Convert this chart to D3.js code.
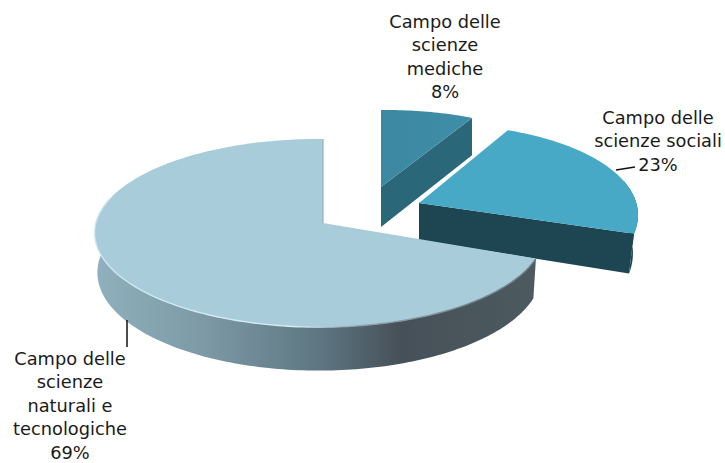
<!DOCTYPE html>
<html>
<head>
<meta charset="utf-8">
<script src="https://cdn.jsdelivr.net/npm/d3@7"></script>
<style>
  html, body { margin: 0; padding: 0; background: #fff; }
  text { font-family: "DejaVu Sans", sans-serif; font-size: 17.8px; fill: #1a1a1a; text-anchor: middle; }
</style>
</head>
<body>
<svg id="chart" width="725" height="463"></svg>
<script>
// clockwise from 12 o'clock, same order as the original slices
const categories = ["Campo delle scienze mediche", "Campo delle scienze sociali", "Campo delle scienze naturali e tecnologiche"];
const shares = [8, 23, 69];
const labelLines = [
  ["Campo delle", "scienze", "mediche", "8%"],
  ["Campo delle", "scienze sociali", "23%"],
  ["Campo delle", "scienze", "naturali e", "tecnologiche", "69%"]
];

// perspective settings for each exploded slice
const views = [
  { ox: 381, oy: 187, rx: 203, ry: 83.5, k: 0.085, j: 0, t: -0.011, d: 40, c: 0 },
  { ox: 419, oy: 203, rx: 215, ry: 93.5, k: 0.19, j: 0, t: -0.029, d: 37, c: 0.023 },
  { ox: 323, oy: 223, rx: 223.4, ry: 93, k: 0.107, j: -0.016, t: 0.002, d: 38.8, c: 0.012 }
];
const topColors = ["url(#topMed)", "#47a9c6", "#a9ccdb"];

const svg = d3.select("#chart");
const defs = svg.append("defs");

function gradient(id, x1, x2, stops) {
  const g = defs.append("linearGradient").attr("id", id)
    .attr("gradientUnits", "userSpaceOnUse")
    .attr("x1", x1).attr("x2", x2).attr("y1", 0).attr("y2", 0);
  stops.forEach(s => g.append("stop").attr("offset", s[0]).attr("stop-color", s[1]));
}
gradient("topMed", 380, 472, [[0, "#3c87a1"], [1, "#3f8ea9"]]);
gradient("wallNat", 96, 537, [[0, "#8fb0bd"], [0.24, "#7d9aa6"], [0.51, "#5d7681"], [0.69, "#465058"], [1, "#4d5a60"]]);
gradient("rimNat", 96, 537, [[0, "#cfe6ef"], [0.45, "#d8edf4"], [0.6, "#8fa3ad"], [1, "#6c7b83"]]);

const pie = d3.pie().sort(null).value(d => d);
const arcs = pie(shares);
const line = d3.line().x(d => d[0]).y(d => d[1]);

// angle in radians, clockwise from the top, r 0..1 on the slice disc
function project(v, a, r, down) {
  const u = Math.sin(a) * r, w = -Math.cos(a) * r;
  const s = 1 / (1 - v.k * w - v.j * u);
  const x = v.rx * u * s;
  const y = v.ry * w * s + v.t * x;
  return down ? [v.ox + x * (1 - v.c), v.oy + y + v.d * s] : [v.ox + x, v.oy + y];
}
function arcPoints(v, a0, a1, down) {
  const n = Math.max(2, Math.ceil(Math.abs(a1 - a0) / 0.02));
  return d3.range(n + 1).map(i => project(v, a0 + (a1 - a0) * i / n, 1, down));
}
function topFace(v, a) {
  return [project(v, 0, 0, false)].concat(arcPoints(v, a.startAngle, a.endAngle, false));
}
function edgeWall(v, angle) {
  return [project(v, 0, 0, false), project(v, angle, 1, false), project(v, angle, 1, true), project(v, 0, 0, true)];
}
function rimWall(v, a0, a1) {
  return arcPoints(v, a0, a1, false).concat(arcPoints(v, a1, a0, true));
}
const closed = pts => line(pts) + "Z";

// medical slice: only the cut face shows below the top
svg.append("path").attr("d", closed(edgeWall(views[0], arcs[0].endAngle))).attr("fill", "#2a6779");
svg.append("path").attr("d", closed(topFace(views[0], arcs[0]))).attr("fill", topColors[0]);

// social slice: cut face and the short piece of rim on the right
const rad = d3.scaleLinear().domain([0, 180]).range([0, Math.PI]);
svg.append("path").attr("d", closed(rimWall(views[1], rad(80), arcs[1].endAngle))).attr("fill", "#1e4652");
svg.append("path").attr("d", closed(edgeWall(views[1], arcs[1].endAngle))).attr("fill", "#1e4652");
svg.append("path").attr("d", closed(topFace(views[1], arcs[1]))).attr("fill", topColors[1]);

// natural sciences slice
svg.append("path").attr("d", closed(rimWall(views[2], arcs[2].startAngle, rad(282)))).attr("fill", "url(#wallNat)");
svg.append("path").attr("d", closed(topFace(views[2], arcs[2]))).attr("fill", topColors[2]);
svg.append("path").attr("d", line(arcPoints(views[2], arcs[2].startAngle, rad(285), false)))
  .attr("fill", "none").attr("stroke", "url(#rimNat)").attr("stroke-width", 1.4);
svg.append("path")
  .attr("d", line([project(views[2], rad(360), 1, false), project(views[2], 0, 0, false)]))
  .attr("fill", "none").attr("stroke", "#97aeb9").attr("stroke-width", 1.2);

// leader lines
const leaders = [[[616, 170], [635, 167]], [[127, 320], [127, 347]]];
leaders.forEach(l => svg.append("path").attr("d", line(l)).attr("stroke", "#111").attr("stroke-width", 1.5).attr("fill", "none"));

// labels
const labelSpots = [{ x: 445, y: 28 }, { x: 658, y: 124 }, { x: 70, y: 365 }];
const labels = svg.selectAll("g.label").data(labelLines).enter().append("g").attr("class", "label")
  .attr("transform", (d, i) => "translate(" + labelSpots[i].x + "," + labelSpots[i].y + ")");
labels.selectAll("text").data(d => d).enter().append("text")
  .attr("y", (d, i) => i * 23.4)
  .text(d => d);
</script>
</body>
</html>
